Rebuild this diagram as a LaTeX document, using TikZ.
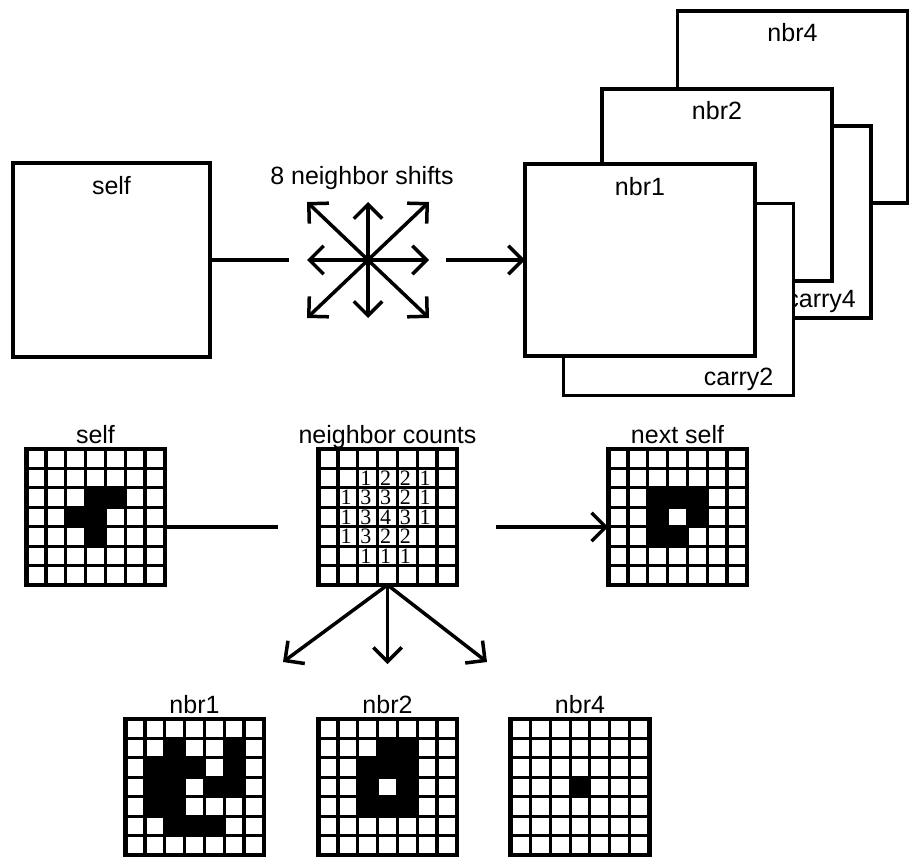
\documentclass[tikz,border=0pt]{standalone}
\usepackage{fontspec}
\setmainfont{Liberation Sans}
\newfontfamily\countfont{Liberation Serif}
\usetikzlibrary{arrows.meta,positioning}

\newcommand{\cellw}{19.8}
\newcommand{\cellh}{19.4}
% inner lines and frame of a 7x7 board
\newcommand{\gridlines}[1]{%
  \foreach \i in {1,...,6} {
    \draw[gridline] (#1.north west) ++(\i*\cellw,0) -- ++(0,7*\cellh);
    \draw[gridline] (#1.north west) ++(0,\i*\cellh) -- ++(7*\cellw,0);
  }
  \draw[gridframe] (#1.north west) rectangle (#1.south east);
}

\tikzset{
  sheet/.style={draw, fill=white, line width=3.4pt, minimum width=230pt,
    minimum height=192pt, inner sep=0pt, outer sep=0pt},
  gridnode/.style={minimum width=138.6pt, minimum height=135.8pt,
    inner sep=0pt, outer sep=0pt},
  gridline/.style={line width=3.1pt},
  gridframe/.style={line width=4.6pt},
  conn/.style={line width=3.5pt},
  barb/.style={-{Straight Barb[angle=90:20pt]}},
  digit/.style={font=\countfont\fontsize{22}{22}\selectfont, inner sep=0pt},
}

\begin{document}
\begin{tikzpicture}[x=1pt,y=-1pt,
  every node/.style={font=\fontsize{25}{30}\selectfont}]
\useasboundingbox (0,0) rectangle (918,864);

% top: whole boards
\node[sheet, minimum width=197pt, minimum height=194pt] (selfbox) at (111.5,260) {};
\node[anchor=base] at ([yshift=-31pt]selfbox.north) {self};

\node[minimum width=122pt, minimum height=116pt, inner sep=0pt, outer sep=0pt] (shifts) at (368,260) {};
\foreach \a in {north,south,east,west,north east,north west,south east,south west}
  \draw[conn,barb] (shifts.center) -- (shifts.\a);
\node[anchor=base] at (362,184) {8 neighbor shifts};

\node[sheet] (nbr4box) at (792.5,107) {};
\node[anchor=base] at ([yshift=-31pt]nbr4box.north) {nbr4};
\node[sheet] (carry4box) at (756,222) {};
\node[anchor=south east, inner sep=0pt] at ([xshift=-15pt,yshift=5pt]carry4box.south east) {carry4};
\node[sheet] (nbr2box) at (717,185) {};
\node[anchor=base] at ([yshift=-31pt]nbr2box.north) {nbr2};
\node[sheet] (carry2box) at (678.5,299.5) {};
\node[anchor=south east, inner sep=0pt] at ([xshift=-20pt,yshift=5pt]carry2box.south east) {carry2};
\node[sheet] (nbr1box) at (640,260) {};
\node[anchor=base] at ([yshift=-31pt]nbr1box.north) {nbr1};

\draw[conn, shorten >=18pt] (selfbox) -- (shifts);
\draw[conn, barb, shorten <=17pt] (shifts) -- (nbr1box);

% bottom: a small example
\node[gridnode] (selfgrid) at (95.5,517) {};
\node[gridnode] (countgrid) at (387.5,517) {};
\node[gridnode] (nextgrid) at (677.5,517) {};
\node[gridnode] (nbr1grid) at (194.5,787) {};
\node[gridnode] (nbr2grid) at (387.5,787) {};
\node[gridnode] (nbr4grid) at (580,787) {};

\foreach \r/\c in {2/3,2/4,3/2,3/3,4/3}
  \fill (selfgrid.north west) ++(\c*\cellw,\r*\cellh) rectangle ++(\cellw,\cellh);
\foreach \r/\c in {2/2,2/3,2/4,3/2,3/4,4/2,4/3}
  \fill (nextgrid.north west) ++(\c*\cellw,\r*\cellh) rectangle ++(\cellw,\cellh);
\foreach \r/\c in {1/2,1/5,2/1,2/2,2/3,2/5,3/1,3/2,3/4,3/5,4/1,4/2,5/2,5/3,5/4}
  \fill (nbr1grid.north west) ++(\c*\cellw,\r*\cellh) rectangle ++(\cellw,\cellh);
\foreach \r/\c in {1/3,1/4,2/2,2/3,2/4,3/2,3/4,4/2,4/3,4/4}
  \fill (nbr2grid.north west) ++(\c*\cellw,\r*\cellh) rectangle ++(\cellw,\cellh);
\fill (nbr4grid.north west) ++(3*\cellw,3*\cellh) rectangle ++(\cellw,\cellh);

\gridlines{selfgrid}
\gridlines{countgrid}
\gridlines{nextgrid}
\gridlines{nbr1grid}
\gridlines{nbr2grid}
\gridlines{nbr4grid}

\foreach \r/\c/\n in {1/2/1,1/3/2,1/4/2,1/5/1,
    2/1/1,2/2/3,2/3/3,2/4/2,2/5/1,
    3/1/1,3/2/3,3/3/4,3/4/3,3/5/1,
    4/1/1,4/2/3,4/3/2,4/4/2,
    5/2/1,5/3/1,5/4/1}
  \path (countgrid.north west) ++(\c*\cellw+8,\r*\cellh+9.7) node[digit] {\n};

\node[anchor=base] at ([yshift=6pt]selfgrid.north) {self};
\node[anchor=base] at ([yshift=6pt]countgrid.north) {neighbor counts};
\node[anchor=base] at ([yshift=6pt]nextgrid.north) {next self};
\node[anchor=base] at ([yshift=6pt]nbr1grid.north) {nbr1};
\node[anchor=base] at ([yshift=6pt]nbr2grid.north) {nbr2};
\node[anchor=base] at ([yshift=6pt]nbr4grid.north) {nbr4};

\draw[conn, shorten >=40pt] ([yshift=-10pt]selfgrid.east) -- ([yshift=-10pt]countgrid.west);
\draw[conn, barb, shorten <=39pt] ([yshift=-10pt]countgrid.east) -- ([yshift=-10pt]nextgrid.west);

\coordinate (to1) at (283,662);
\coordinate (to2) at (387.5,664);
\coordinate (to4) at (487,662);
\foreach \t in {to1,to2,to4}
  \draw[conn, barb] (countgrid.south) -- (\t);
\end{tikzpicture}
\end{document}
